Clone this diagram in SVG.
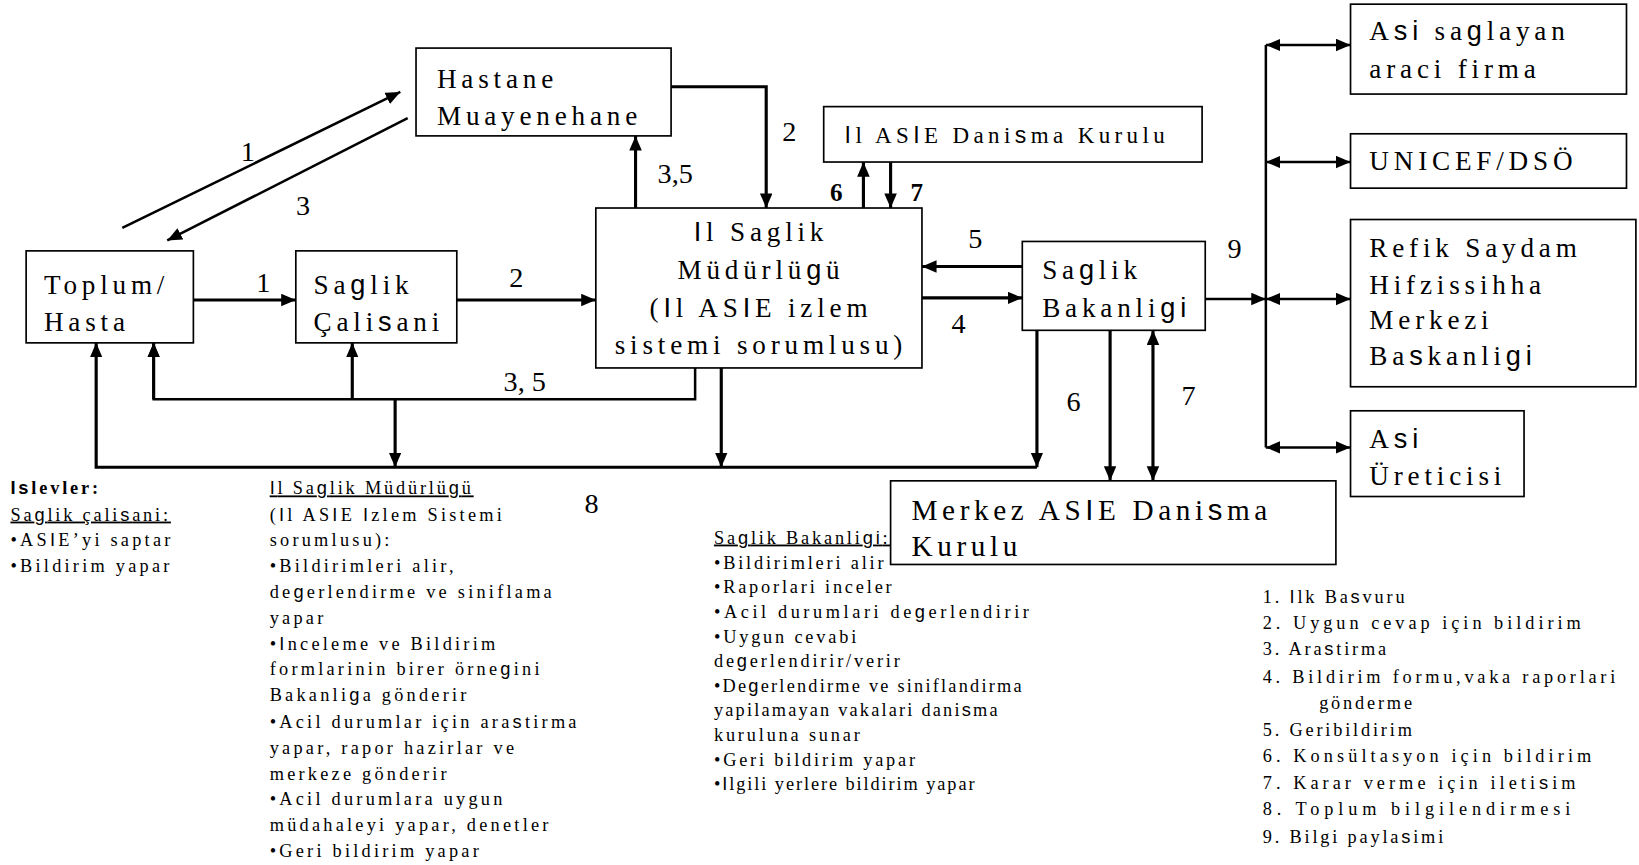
<svg xmlns="http://www.w3.org/2000/svg" width="1639" height="865" viewBox="0 0 1639 865">
<style>
text{font-family:"Liberation Serif","Times New Roman",serif;fill:#000}
.sf{font-family:"Liberation Sans",Arial,sans-serif}
.n{font-size:26px;letter-spacing:4.6px}
.nm{font-size:28px;letter-spacing:4.4px}
.ns{font-size:22px;letter-spacing:4.2px}
.lb{font-size:27px;text-anchor:middle}
.lbb{font-size:24px;font-weight:bold;text-anchor:middle}
.t{font-size:17.5px;letter-spacing:2.7px}
.t3{letter-spacing:3.1px}
.u{text-decoration:underline}
.box{fill:#fff;stroke:#000;stroke-width:1.6}
.c{fill:none;stroke:#000;stroke-width:3}
.ct{fill:none;stroke:#000;stroke-width:2.4}
</style>
<defs>
<marker id="ah" markerUnits="userSpaceOnUse" markerWidth="16" markerHeight="14" refX="14" refY="6" orient="auto-start-reverse">
<path d="M0,0 L14,6 L0,12 z" fill="#000"/>
</marker>
</defs>
<rect width="1639" height="865" fill="#fff"/>
<g transform="scale(1.0453)">
<g id="connectors">
<path class="c" d="M185,287 H283" marker-end="url(#ah)"/>
<path class="c" d="M437,287 H570" marker-end="url(#ah)"/>
<path class="c" d="M642,83 H733 V199" marker-end="url(#ah)"/>
<path class="c" d="M608,199 V130" marker-end="url(#ah)"/>
<path class="c" d="M826,199 V155" marker-end="url(#ah)"/>
<path class="c" d="M852,155 V199" marker-end="url(#ah)"/>
<path class="c" d="M978,255 H882" marker-end="url(#ah)"/>
<path class="c" d="M882,285 H978" marker-end="url(#ah)"/>
<path class="ct" d="M1153,286 H1211" marker-end="url(#ah)"/>
<path class="ct" d="M1211,43 V428"/>
<path class="ct" d="M1211,43 H1292" marker-start="url(#ah)" marker-end="url(#ah)"/>
<path class="ct" d="M1211,155 H1292" marker-start="url(#ah)" marker-end="url(#ah)"/>
<path class="ct" d="M1211,286 H1292" marker-start="url(#ah)" marker-end="url(#ah)"/>
<path class="ct" d="M1211,428 H1292" marker-start="url(#ah)" marker-end="url(#ah)"/>
<path class="ct" d="M665,352 V382 H147 V328" marker-end="url(#ah)"/>
<path class="c" d="M147,382 V328" marker-end="url(#ah)"/>
<path class="c" d="M337,382 V328" marker-end="url(#ah)"/>
<path class="c" d="M378,382 V447" marker-end="url(#ah)"/>
<path class="c" d="M690,352 V447" marker-end="url(#ah)"/>
<path class="c" d="M992,316 V447" marker-end="url(#ah)"/>
<path class="c" d="M992,447 H92 V328" marker-end="url(#ah)"/>
<path class="c" d="M1062,316 V460" marker-end="url(#ah)"/>
<path class="c" d="M1103,460 V316" marker-start="url(#ah)" marker-end="url(#ah)"/>
<path class="ct" d="M117,218 L383,88" marker-end="url(#ah)"/>
<path class="ct" d="M390,113 L160,230" marker-end="url(#ah)"/>
<text class="lb" x="237" y="154">1</text>
<text class="lb" x="290" y="206">3</text>
<text class="lb" x="252" y="279">1</text>
<text class="lb" x="494" y="275">2</text>
<text class="lb" x="502" y="374">3, 5</text>
<text class="lb" x="755" y="135">2</text>
<text class="lb" x="646" y="175">3,5</text>
<text class="lbb" x="800" y="192">6</text>
<text class="lbb" x="877" y="192">7</text>
<text class="lb" x="933" y="237">5</text>
<text class="lb" x="917" y="319">4</text>
<text class="lb" x="1181" y="247">9</text>
<text class="lb" x="1027" y="393">6</text>
<text class="lb" x="1137" y="387">7</text>
<text class="lb" x="566" y="491">8</text>
</g>
<g id="hastane">
<rect class="box" x="398" y="46" width="244" height="84"/>
<text class="n" x="418" y="84">Hastane</text>
<text class="n" x="418" y="120">Muayenehane</text>
</g>
<g id="toplum">
<rect class="box" x="25" y="240" width="160" height="88"/>
<text class="n" x="42" y="281">Toplum/</text>
<text class="n" x="42" y="317">Hasta</text>
</g>
<g id="saglik-calisani">
<rect class="box" x="283" y="240" width="154" height="88"/>
<text class="n" x="300" y="281">Sa<tspan class="sf">g</tspan>lik</text>
<text class="n" x="300" y="317">Çali<tspan class="sf">s</tspan>ani</text>
</g>
<g id="il-saglik">
<rect class="box" x="570" y="199" width="312" height="153"/>
<text class="n" x="728" y="231" text-anchor="middle"><tspan class="sf">I</tspan>l Saglik</text>
<text class="n" x="728" y="267" text-anchor="middle">Müdürlü<tspan class="sf">g</tspan>ü</text>
<text class="n" x="728" y="303" text-anchor="middle">(<tspan class="sf">I</tspan>l AS<tspan class="sf">I</tspan>E izlem</text>
<text class="n" x="728" y="339" text-anchor="middle">sistemi sorumlusu)</text>
</g>
<g id="il-danisma">
<rect class="box" x="788" y="102" width="362" height="53"/>
<text class="ns" x="808" y="137"><tspan class="sf">I</tspan>l AS<tspan class="sf">I</tspan>E Dani<tspan class="sf">s</tspan>ma Kurulu</text>
</g>
<g id="bakanlik">
<rect class="box" x="978" y="231" width="175" height="85"/>
<text class="n" x="997" y="267">Sa<tspan class="sf">g</tspan>lik</text>
<text class="n" x="997" y="303">Bakanli<tspan class="sf">gi</tspan></text>
</g>
<g id="merkez">
<rect class="box" x="852" y="460" width="426" height="80"/>
<text class="nm" x="872" y="497">Merkez AS<tspan class="sf">I</tspan>E Dani<tspan class="sf">s</tspan>ma</text>
<text class="nm" x="872" y="532">Kurulu</text>
</g>
<g id="asi-firma">
<rect class="box" x="1292" y="4" width="264" height="86"/>
<text class="n" x="1310" y="38">A<tspan class="sf">si</tspan> sa<tspan class="sf">g</tspan>layan</text>
<text class="n" x="1310" y="75">araci firma</text>
</g>
<g id="unicef">
<rect class="box" x="1292" y="128" width="264" height="52"/>
<text class="n" x="1310" y="163">UNICEF/DSÖ</text>
</g>
<g id="refik">
<rect class="box" x="1292" y="210" width="273" height="160"/>
<text class="n" x="1310" y="246">Refik Saydam</text>
<text class="n" x="1310" y="281">Hifzissihha</text>
<text class="n" x="1310" y="315">Merkezi</text>
<text class="n" x="1310" y="349">Ba<tspan class="sf">s</tspan>kanli<tspan class="sf">gi</tspan></text>
</g>
<g id="asi-uretici">
<rect class="box" x="1292" y="393" width="166" height="82"/>
<text class="n" x="1310" y="429">A<tspan class="sf">si</tspan></text>
<text class="n" x="1310" y="464">Üreticisi</text>
</g>
<g id="islevler">
<text class="t" x="10" y="473" font-weight="bold"><tspan class="sf">Is</tspan>levler:</text>
<text class="t u" x="10" y="498">Sa<tspan class="sf">g</tspan>lik çali<tspan class="sf">s</tspan>ani:</text>
<text class="t t3" x="10" y="522">•AS<tspan class="sf">I</tspan>E’yi saptar</text>
<text class="t t3" x="10" y="547">•Bildirim yapar</text>
</g>
<g id="il-gorevler">
<text class="t u" x="258" y="473"><tspan class="sf">I</tspan>l Sa<tspan class="sf">g</tspan>lik Müdürlü<tspan class="sf">g</tspan>ü</text>
<text class="t t3" x="258" y="498">(<tspan class="sf">I</tspan>l AS<tspan class="sf">I</tspan>E <tspan class="sf">I</tspan>zlem Sistemi</text>
<text class="t t3" x="258" y="522">sorumlusu):</text>
<text class="t t3" x="258" y="547">•Bildirimleri alir,</text>
<text class="t t3" x="258" y="572">de<tspan class="sf">g</tspan>erlendirme ve siniflama</text>
<text class="t t3" x="258" y="597">yapar</text>
<text class="t t3" x="258" y="622">•<tspan class="sf">I</tspan>nceleme ve Bildirim</text>
<text class="t t3" x="258" y="646">formlarinin birer örne<tspan class="sf">g</tspan>ini</text>
<text class="t t3" x="258" y="671">Bakanli<tspan class="sf">g</tspan>a gönderir</text>
<text class="t t3" x="258" y="696">•Acil durumlar için ara<tspan class="sf">s</tspan>tirma</text>
<text class="t t3" x="258" y="721">yapar, rapor hazirlar ve</text>
<text class="t t3" x="258" y="746">merkeze gönderir</text>
<text class="t t3" x="258" y="770">•Acil durumlara uygun</text>
<text class="t t3" x="258" y="795">müdahaleyi yapar, denetler</text>
<text class="t t3" x="258" y="820">•Geri bildirim yapar</text>
</g>
<g id="bakanlik-gorevler">
<text class="t u" x="683" y="520">Sa<tspan class="sf">g</tspan>lik Bakanli<tspan class="sf">gi</tspan>:</text>
<text class="t" x="683" y="544">•Bildirimleri alir</text>
<text class="t" x="683" y="567">•Raporlari inceler</text>
<text class="t" x="683" y="591" textLength="304" lengthAdjust="spacing">•Acil durumlari de<tspan class="sf">g</tspan>erlendirir</text>
<text class="t" x="683" y="615">•Uygun cevabi</text>
<text class="t" x="683" y="638">de<tspan class="sf">g</tspan>erlendirir/verir</text>
<text class="t" x="683" y="662" textLength="297" lengthAdjust="spacing">•De<tspan class="sf">g</tspan>erlendirme ve siniflandirma</text>
<text class="t" x="683" y="685" textLength="274" lengthAdjust="spacing">yapilamayan vakalari dani<tspan class="sf">s</tspan>ma</text>
<text class="t" x="683" y="709">kuruluna sunar</text>
<text class="t" x="683" y="733">•Geri bildirim yapar</text>
<text class="t" x="683" y="756" textLength="252" lengthAdjust="spacing">•<tspan class="sf">I</tspan>lgili yerlere bildirim yapar</text>
</g>
<g id="legend">
<text class="t" x="1208" y="577">1. <tspan class="sf">I</tspan>lk Ba<tspan class="sf">s</tspan>vuru</text>
<text class="t" x="1208" y="602" textLength="307" lengthAdjust="spacing">2. Uygun cevap için bildirim</text>
<text class="t" x="1208" y="627">3. Ara<tspan class="sf">s</tspan>tirma</text>
<text class="t" x="1208" y="653" textLength="340" lengthAdjust="spacing">4. Bildirim formu,vaka raporlari</text>
<text class="t" x="1262" y="678">gönderme</text>
<text class="t" x="1208" y="704">5. Geribildirim</text>
<text class="t" x="1208" y="729" textLength="317" lengthAdjust="spacing">6. Konsültasyon için bildirim</text>
<text class="t" x="1208" y="755" textLength="302" lengthAdjust="spacing">7. Karar verme için ileti<tspan class="sf">s</tspan>im</text>
<text class="t" x="1208" y="780" textLength="297" lengthAdjust="spacing">8. Toplum bilgilendirmesi</text>
<text class="t" x="1208" y="806">9. Bilgi payla<tspan class="sf">s</tspan>imi</text>
</g>
</g>
</svg>
